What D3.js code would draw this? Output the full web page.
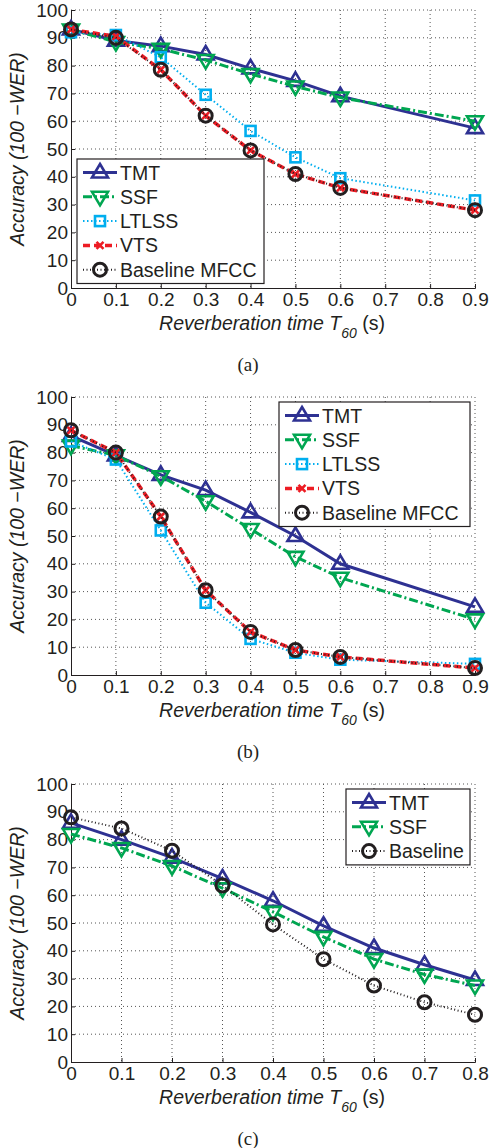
<!DOCTYPE html>
<html>
<head>
<meta charset="utf-8">
<script src="https://cdn.jsdelivr.net/npm/d3@7"></script>
<style>
  body { margin: 0; background: #fff; }
  svg { display: block; font-family: "Liberation Sans", Arial, sans-serif; }
</style>
</head>
<body>
<div id="chart"></div>
<script>
// ---- data ----
const timesAB = [0, 0.1, 0.2, 0.3, 0.4, 0.5, 0.6, 0.9];
const timesC = [0, 0.1, 0.2, 0.3, 0.4, 0.5, 0.6, 0.7, 0.8];
const yTicks = [0, 10, 20, 30, 40, 50, 60, 70, 80, 90, 100];
const xTicksAB = [0, 0.1, 0.2, 0.3, 0.4, 0.5, 0.6, 0.7, 0.8, 0.9];
const xTicksC = [0, 0.1, 0.2, 0.3, 0.4, 0.5, 0.6, 0.7, 0.8];

// (a)
const tmtA = [93, 89, 87, 84, 79, 74.5, 69, 57.5];
const ssfA = [93, 88.5, 86, 82, 77, 72.5, 68.5, 60];
const ltlssA = [92, 91, 83, 69.5, 56.5, 47, 39.5, 31.5];
const vtsA = [93, 90.5, 78.5, 62, 49.5, 41, 36, 28];
const baseA = [93, 90, 78.5, 62, 49.5, 41, 36, 28];

// (b)
const tmtB = [86, 79, 72, 66.5, 58.5, 50, 40, 24.5];
const ssfB = [82.5, 79, 71.5, 62.5, 52.5, 42.5, 35, 20];
const ltlssB = [84, 77.5, 52, 26, 13, 8, 5.5, 4];
const vtsB = [88, 80, 57, 30.5, 15.5, 9, 6.5, 2.5];
const baseB = [88, 80, 57, 30.5, 15.5, 9, 6.5, 2.5];

// (c)
const tmtC = [86, 80, 73.5, 66, 58, 49, 41, 35, 29.5];
const ssfC = [82, 77, 70.5, 62.5, 54, 45, 37, 31.5, 27.5];
const baseC = [88, 84, 76, 63.5, 49.5, 37, 27.5, 21.5, 17];

// ---- styles ----
const styles = {
  "TMT":      {color: "#2e3192", width: 3,   dash: null,      marker: "triUp"},
  "SSF":      {color: "#00a651", width: 3,   dash: "9,3,2,3", marker: "triDown"},
  "LTLSS":    {color: "#00aeef", width: 2,   dash: "1.5,2.5", marker: "square"},
  "VTS":      {color: "#ed1c24", width: 3.5, dash: "7,4",     marker: "cross"},
  "Baseline": {color: "#231f20", width: 2,   dash: "1,2.5",   marker: "circle"}
};

const W = 492, H = 1148;
const left = 71, plotW = 404, plotH = 278;

const svg = d3.select("#chart").append("svg")
  .attr("width", W).attr("height", H);

function drawMarker(g, type, color) {
  if (type === "triUp") {
    g.append("path").attr("d", "M0,-8.5L8,5L-8,5Z")
      .attr("fill", "none").attr("stroke", color).attr("stroke-width", 2.6);
  } else if (type === "triDown") {
    g.append("path").attr("d", "M0,8.5L8,-5L-8,-5Z")
      .attr("fill", "none").attr("stroke", color).attr("stroke-width", 2.6);
  } else if (type === "square") {
    g.append("rect").attr("x", -5).attr("y", -5).attr("width", 10).attr("height", 10)
      .attr("fill", "none").attr("stroke", color).attr("stroke-width", 2.6);
  } else if (type === "cross") {
    g.append("path").attr("d", "M-3.5,-3.5L3.5,3.5M-3.5,3.5L3.5,-3.5")
      .attr("fill", "none").attr("stroke", color).attr("stroke-width", 2.6);
  } else if (type === "circle") {
    g.append("circle").attr("r", 6.5)
      .attr("fill", "none").attr("stroke", color).attr("stroke-width", 3);
  }
}

function drawPanel(cfg) {
  const g = svg.append("g").attr("transform", `translate(${left},${cfg.top})`);
  const x = d3.scaleLinear().domain([0, cfg.xMax]).range([0, plotW]);
  const y = d3.scaleLinear().domain([0, 100]).range([plotH, 0]);

  // dotted grid
  g.append("g").selectAll("line").data(cfg.xTicks.filter(d => d > 0))
    .join("line")
    .attr("x1", d => x(d)).attr("x2", d => x(d))
    .attr("y1", 0).attr("y2", plotH)
    .attr("stroke", "#555").attr("stroke-width", 1).attr("stroke-dasharray", "1,3");
  g.append("g").selectAll("line").data(yTicks.filter(d => d > 0))
    .join("line")
    .attr("x1", 0).attr("x2", plotW)
    .attr("y1", d => y(d)).attr("y2", d => y(d))
    .attr("stroke", "#555").attr("stroke-width", 1).attr("stroke-dasharray", "1,3");

  // axes (ticks inward)
  const xAxis = g.append("g").attr("transform", `translate(0,${plotH})`)
    .call(d3.axisBottom(x).tickValues(cfg.xTicks).tickSize(-4).tickPadding(8)
      .tickFormat(d => d === 0 ? "0" : d3.format(".1f")(d)));
  const yAxis = g.append("g")
    .call(d3.axisLeft(y).tickValues(yTicks).tickSize(-4).tickPadding(3));
  [xAxis, yAxis].forEach(a => {
    a.select(".domain").attr("stroke", "#231f20");
    a.selectAll(".tick line").attr("stroke", "#231f20");
    a.selectAll("text").attr("font-size", 19).attr("fill", "#231f20")
      .attr("font-family", "'Liberation Sans', Arial, sans-serif");
  });
  xAxis.selectAll("text").attr("dy", "0.55em");

  // series
  cfg.series.forEach(s => {
    const st = styles[s.key];
    const pts = s.values.map((v, i) => [cfg.times[i], v]);
    const line = d3.line().x(d => x(d[0])).y(d => y(d[1]));
    g.append("path").datum(pts)
      .attr("d", line)
      .attr("fill", "none")
      .attr("stroke", st.color)
      .attr("stroke-width", st.width)
      .attr("stroke-dasharray", st.dash);
    pts.forEach(p => {
      const m = g.append("g").attr("transform", `translate(${x(p[0])},${y(p[1])})`);
      drawMarker(m, st.marker, st.color);
    });
  });

  // legend
  const lg = g.append("g").attr("transform", `translate(${cfg.legend.x - left},${cfg.legend.y - cfg.top})`);
  const rowH = 24.3;
  lg.append("rect")
    .attr("width", cfg.legend.w)
    .attr("height", cfg.series.length * rowH + 3)
    .attr("fill", "#fff").attr("stroke", "#231f20").attr("stroke-width", 1.2);
  cfg.series.forEach((s, i) => {
    const st = styles[s.key];
    const row = lg.append("g").attr("transform", `translate(0,${13.5 + i * rowH})`);
    row.append("line").attr("x1", 6).attr("x2", 40)
      .attr("stroke", st.color).attr("stroke-width", st.width)
      .attr("stroke-dasharray", st.dash);
    const m = row.append("g").attr("transform", "translate(23,0)");
    drawMarker(m, st.marker, st.color);
    row.append("text").attr("x", 43).attr("y", 0).attr("dy", "0.36em")
      .attr("font-size", 19.5).attr("fill", "#231f20").text(s.name);
  });

  // axis labels
  svg.append("text")
    .attr("transform", `translate(24,${cfg.top + plotH / 2}) rotate(-90)`)
    .attr("text-anchor", "middle")
    .attr("font-size", 19.5).attr("font-style", "italic").attr("fill", "#231f20")
    .text("Accuracy (100 \u2212WER)");

  const xl = svg.append("text")
    .attr("x", 272).attr("y", cfg.top + plotH + 42)
    .attr("text-anchor", "middle")
    .attr("font-size", 19.5).attr("fill", "#231f20");
  xl.append("tspan").attr("font-style", "italic").text("Reverberation time T");
  xl.append("tspan").attr("font-style", "italic").attr("font-size", 14).attr("dy", 8).text("60");
  xl.append("tspan").attr("dy", -8).text(" (s)");

  svg.append("text")
    .attr("x", 248).attr("y", cfg.top + plotH + 83)
    .attr("text-anchor", "middle")
    .attr("font-family", "'Liberation Serif', 'Times New Roman', serif")
    .attr("font-size", 19).attr("fill", "#231f20")
    .text(cfg.caption);
}

drawPanel({
  top: 10, xMax: 0.9, xTicks: xTicksAB, times: timesAB, caption: "(a)",
  legend: {x: 77, y: 159, w: 187},
  series: [
    {key: "TMT", name: "TMT", values: tmtA},
    {key: "SSF", name: "SSF", values: ssfA},
    {key: "LTLSS", name: "LTLSS", values: ltlssA},
    {key: "VTS", name: "VTS", values: vtsA},
    {key: "Baseline", name: "Baseline MFCC", values: baseA}
  ]
});

drawPanel({
  top: 397, xMax: 0.9, xTicks: xTicksAB, times: timesAB, caption: "(b)",
  legend: {x: 279, y: 402, w: 191},
  series: [
    {key: "TMT", name: "TMT", values: tmtB},
    {key: "SSF", name: "SSF", values: ssfB},
    {key: "LTLSS", name: "LTLSS", values: ltlssB},
    {key: "VTS", name: "VTS", values: vtsB},
    {key: "Baseline", name: "Baseline MFCC", values: baseB}
  ]
});

drawPanel({
  top: 784, xMax: 0.8, xTicks: xTicksC, times: timesC, caption: "(c)",
  legend: {x: 346, y: 789, w: 124},
  series: [
    {key: "TMT", name: "TMT", values: tmtC},
    {key: "SSF", name: "SSF", values: ssfC},
    {key: "Baseline", name: "Baseline", values: baseC}
  ]
});
</script>
</body>
</html>
